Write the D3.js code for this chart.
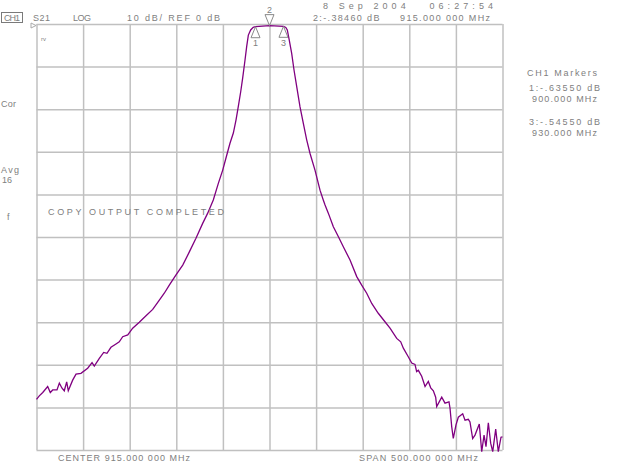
<!DOCTYPE html>
<html>
<head>
<meta charset="utf-8">
<script src="https://cdn.jsdelivr.net/npm/d3@7"></script>
<style>
  html, body { margin: 0; padding: 0; background: #fff; }
  svg { display: block; }
  text { font-family: "Liberation Sans", Arial, sans-serif; fill: #808080; font-size: 9px; white-space: pre; }
</style>
</head>
<body>
<svg id="chart" width="640" height="465"></svg>
<script>
// ---- data ----
const freqMHz = [665, 668.0, 671.7, 677.0, 679.8, 682.4, 687.0, 689.5, 692.4, 694.8, 697.4, 699.1, 703.8, 707.4, 712.7,
  719.9, 724.6, 727.0, 732.4, 737.1, 740.6, 744.9, 750.3, 753.8, 757.5, 762.9, 768.2, 775.3, 782.5, 789.7, 796.8,
  802.1, 807.5, 814.7, 821.9, 829.0, 836.1, 843.3, 848.7, 854.7, 860.1, 864.8, 869.1, 872.6, 876.2, 879.1, 881.5,
  884.1, 886.2, 888.7, 890.5, 892.3, 894.8, 897.5, 900, 915, 930, 932.5, 934.1, 936.2, 938.8, 941.3, 944.2, 947.7,
  951.3, 954.9, 958.5, 963.8, 969.2, 972.7, 974.6, 978.1, 983.5, 988.8, 994.2, 1001.4, 1008.6, 1013.9, 1019.3,
  1024.7, 1031.7, 1038.9, 1044.3, 1051.5, 1055.8, 1058.6, 1063.9, 1067.6, 1071.1, 1072.9, 1074.7, 1078.3, 1081.9,
  1085.4, 1088.0, 1090.8, 1093.3, 1094.4, 1099.8, 1103.3, 1107.6, 1108.7, 1110.5, 1112.2, 1115.1, 1117.6, 1122.3,
  1124.8, 1128.3, 1130.1, 1133.0, 1135.5, 1140.1, 1142.7, 1145.2, 1147.3, 1149.8, 1152.3, 1154.5, 1157.7, 1160.5,
  1163.4, 1165];
const s21dB = [-88.1, -87.3, -86.5, -85.1, -86.5, -85.9, -85.9, -84.3, -85.5, -86.1, -84.0, -86.1, -83.6, -82.2, -82.0,
  -80.8, -79.5, -80.3, -78.5, -77.1, -77.3, -75.9, -75.1, -74.6, -73.4, -73.0, -71.4, -70.0, -68.5, -67.0, -64.8,
  -63.2, -61.3, -58.9, -56.6, -53.5, -50.3, -46.8, -44.4, -41.3, -37.4, -34.3, -30.8, -28.0, -25.6, -22.5, -19.4,
  -15.9, -12.7, -8.5, -5.3, -2.6, -1.4, -0.8, -0.6355, -0.3846, -0.5455, -0.8, -1.4, -3.8, -6.9, -10.8, -14.7, -19.4,
  -23.3, -27.2, -30.4, -34.3, -39.0, -41.3, -42.5, -44.4, -47.6, -49.9, -52.3, -55.4, -59.3, -61.3, -63.2,
  -65.6, -67.9, -69.9, -71.4, -73.8, -74.6, -76.1, -78.1, -79.6, -79.9, -81.6, -81.3, -82.7, -85.1,
  -83.9, -85.4, -86.1, -87.6, -89.8, -87.6, -89.0, -88.7, -90.2, -94.5, -97.3, -94.1, -92.3, -91.5,
  -93.0, -92.8, -93.4, -97.3, -96.5, -93.9, -100.4, -96.5, -99.2, -93.6, -98.4, -100.4, -95.1, -100.4,
  -97.0, -96.9];
const markerIds = ["1", "2", "3"];
const markerFreqs = [900, 915, 930];
const markerVals = [-0.6355, -0.3846, -0.5455];
const freqTicks = [665, 715, 765, 815, 865, 915, 965, 1015, 1065, 1115, 1165];
const dbTicks = [0, -10, -20, -30, -40, -50, -60, -70, -80, -90, -100];

const svg = d3.select("#chart");
const x = d3.scaleLinear().domain([665, 1165]).range([36.5, 502.5]);
const y = d3.scaleLinear().domain([0, -100]).range([24, 450]);

// ---- grid ----
const grid = svg.append("g");
grid.append("g").attr("transform", "translate(0,450)")
  .call(d3.axisBottom(x).tickValues(freqTicks).tickSize(-426).tickFormat(""))
  .call(g => g.select(".domain").remove());
grid.append("g").attr("transform", "translate(36.5,0)")
  .call(d3.axisLeft(y).tickValues(dbTicks).tickSize(-466).tickFormat(""))
  .call(g => g.select(".domain").remove());
grid.selectAll("line").attr("stroke", "#c0c0c0").attr("stroke-width", 1.5);

// ---- trace ----
const pts = freqMHz.map((f, i) => [f, s21dB[i]]);
svg.append("path").datum(pts)
  .attr("fill", "none").attr("stroke", "#800080").attr("stroke-width", 1.3)
  .attr("d", d3.line().x(d => x(d[0])).y(d => y(d[1])));

// ---- markers ----
markerIds.forEach((id, i) => {
  const mx = x(markerFreqs[i]), my = y(markerVals[i]);
  const g = svg.append("g").attr("fill", "none").attr("stroke", "#8a8a8a").attr("stroke-width", 1);
  if (id === "2") {
    g.append("path").attr("d", `M${mx},${my} L${mx - 4.5},${my - 11} L${mx + 4.5},${my - 11} Z`);
    svg.append("text").attr("x", mx).attr("y", 12.5).attr("text-anchor", "middle").text(id);
  } else {
    g.append("path").attr("d", `M${mx},${my} L${mx - 4.5},${my + 11} L${mx + 4.5},${my + 11} Z`);
    svg.append("text").attr("x", mx).attr("y", my + 19.5).attr("text-anchor", "middle").text(id);
  }
});

// reference position indicator
svg.append("path").attr("d", "M31,23 L36,25.5 L31,28 Z").attr("fill", "none").attr("stroke", "#aaa").attr("stroke-width", 1);
svg.append("text").attr("x", 41).attr("y", 41).style("font-size", "6px").text("rv");

// ---- texts ----
function txt(s, x0, x1, yb) {
  svg.append("text").attr("x", x0).attr("y", yb)
    .attr("xml:space", "preserve")
    .attr("textLength", x1 - x0).attr("lengthAdjust", "spacing").text(s);
}
svg.append("rect").attr("x", 1.5).attr("y", 12.5).attr("width", 21).attr("height", 10)
  .attr("fill", "none").attr("stroke", "#7a7a7a").attr("stroke-width", 1);
txt("CH1", 4, 20, 21);
txt("S21", 33, 50, 21);
txt("LOG", 73, 91, 21);
txt("10 dB/ REF 0 dB", 127, 220, 21);
txt("8 Sep 2004   06:27:54", 323, 493, 8.5);
txt("2:-.38460 dB     915.000 000 MHz", 313, 490, 21);
txt("CH1 Markers", 527, 597, 76);
txt("1:-.63550 dB", 529, 600, 91);
txt("900.000 MHz", 532, 597, 101.5);
txt("3:-.54550 dB", 529, 600, 125);
txt("930.000 MHz", 532, 597, 135.5);
txt("Cor", 1, 16, 107);
txt("Avg", 1, 19, 172.5);
txt("16", 2, 12, 183);
svg.append("text").attr("x", 7).attr("y", 220).text("f");
txt("COPY OUTPUT COMPLETED", 48, 224, 215);
txt("CENTER 915.000 000 MHz", 58, 190, 461);
txt("SPAN 500.000 000 MHz", 359, 478, 461);
</script>
</body>
</html>
